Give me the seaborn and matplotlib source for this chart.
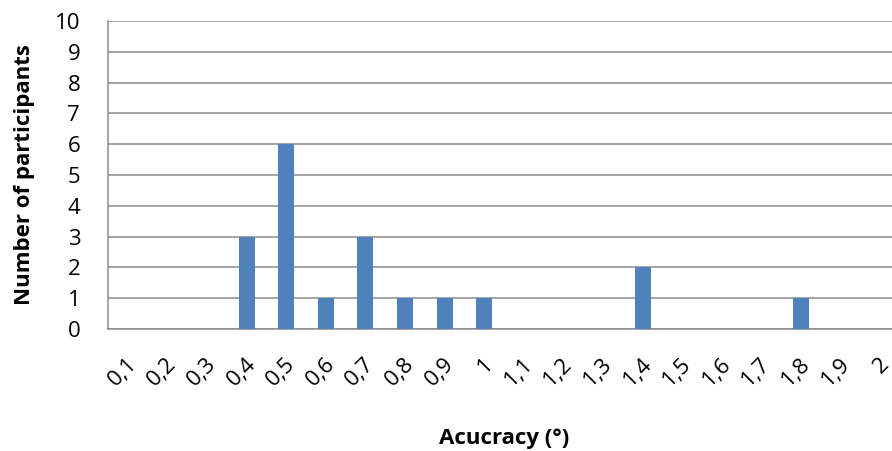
import numpy as np
import pandas as pd
import seaborn as sns
import matplotlib.pyplot as plt
from matplotlib.ticker import FixedLocator
from matplotlib.transforms import ScaledTranslation

# accuracy bins (deg) and participant counts
categories = ["0,1", "0,2", "0,3", "0,4", "0,5", "0,6", "0,7", "0,8", "0,9", "1",
              "1,1", "1,2", "1,3", "1,4", "1,5", "1,6", "1,7", "1,8", "1,9", "2"]
counts = [0, 0, 0, 3, 6, 1, 3, 1, 1, 1,
          0, 0, 0, 2, 0, 0, 0, 1, 0, 0]
y_ticks = list(range(0, 11))

sns.set_style("white")
plt.rcParams['font.family'] = ['Open Sans', 'DejaVu Sans']
plt.rcParams['text.color'] = 'black'
plt.rcParams['axes.labelcolor'] = 'black'

df = pd.DataFrame({"acc": categories, "n": counts})

fig = plt.figure(figsize=(8.92, 4.51), dpi=100)
# plot area runs a little past the right edge, like the cropped original
ax = fig.add_axes([108 / 892, 1 - 329 / 451, (900 - 108) / 892, (329 - 21) / 451])

sns.barplot(data=df, x="acc", y="n", order=categories, color="#4F81BD",
            saturation=1, width=0.4, linewidth=0, ax=ax, zorder=3)

grid_c = "#8c8c8c"
ax.set_ylim(0, 10)
ax.set_xlim(-0.5, len(categories) - 0.5)
ax.set_yticks(y_ticks)
ax.yaxis.grid(True, color=grid_c, linewidth=1.1, zorder=0)
ax.set_axisbelow(True)

for s in ["top", "right"]:
    ax.spines[s].set_visible(False)
for s in ["left", "bottom"]:
    ax.spines[s].set_color(grid_c)
    ax.spines[s].set_linewidth(1.1)

ax.tick_params(axis="y", length=7, width=1.1, color=grid_c, labelcolor="black", labelsize=16, pad=13)
ax.tick_params(axis="x", which="major", length=0, pad=18, labelsize=16, labelcolor="black")
ax.xaxis.set_minor_locator(FixedLocator(np.arange(-0.5, len(categories), 1.0)))
ax.tick_params(axis="x", which="minor", length=6, width=1.1, color=grid_c, direction="out")

ax.set_xticks(range(len(categories)))
ax.set_xticklabels(categories, rotation=45, ha="right", va="center", rotation_mode="anchor")
shift = ScaledTranslation(6 / 100, -7 / 100, fig.dpi_scale_trans)
for lab in ax.get_xticklabels():
    lab.set_transform(lab.get_transform() + shift)

ax.set_ylabel("Number of participants", fontsize=16, fontweight="bold", labelpad=14)
ax.set_xlabel("Acucracy (°)", fontsize=16, fontweight="bold", labelpad=27)

fig.savefig("out.png", dpi=100)
